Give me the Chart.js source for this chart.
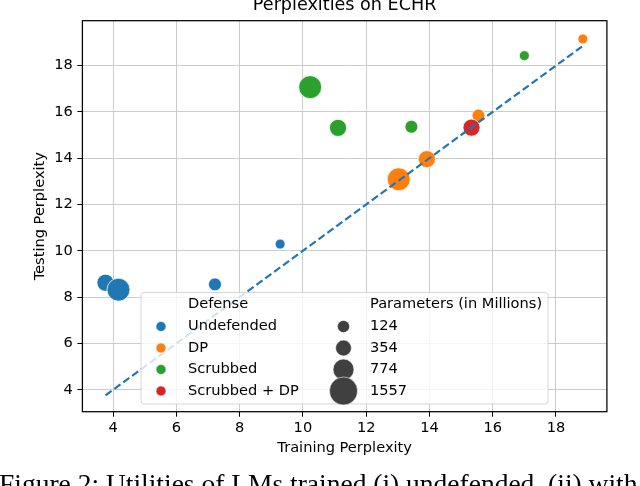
<!DOCTYPE html>
<html>
<head>
<meta charset="utf-8">
<script src="https://cdn.jsdelivr.net/npm/chart.js@4.4.0/dist/chart.umd.min.js"></script>
<style>
    body { margin: 0; background: #fff; }
    #wrap { position: relative; width: 640px; height: 486px; overflow: hidden; }
    #caption {
        position: absolute; left: -1px; top: 470px;
        font-family: "Liberation Serif", "Times New Roman", serif;
        font-size: 27.5px; line-height: 27.5px; white-space: nowrap; color: #000;
    }
</style>
</head>
<body>
<div id="wrap">
    <canvas id="perplexityChart" width="640" height="486"></canvas>
    <div id="caption">Figure 2: Utilities of LMs trained (i) undefended, (ii) with</div>
</div>
<script>
// model sizes (millions of parameters)
const modelParams = [124, 354, 774, 1557];

const undefendedTrain = [9.28, 7.22, 3.76, 4.17];
const undefendedTest = [10.29, 8.55, 8.62, 8.32];

const dpTrain = [18.85, 15.55, 13.92, 13.03];
const dpTest = [19.15, 15.84, 13.96, 13.09];

const scrubbedTrain = [17.0, 13.43, 11.11, 10.23];
const scrubbedTest = [18.43, 15.36, 15.31, 17.07];

const scrubbedDpParams = [774];
const scrubbedDpTrain = [15.33];
const scrubbedDpTest = [15.32];

const defenseNames = ["Undefended", "DP", "Scrubbed", "Scrubbed + DP"];
const defenseColors = ["#1f77b4", "#ff7f0e", "#2ca02c", "#d62728"];

const xTickValues = [4, 6, 8, 10, 12, 14, 16, 18];
const yTickValues = [4, 6, 8, 10, 12, 14, 16, 18];

const FONT = '"DejaVu Sans", Verdana, sans-serif';
const LABEL_SIZE = 14.6;

// seaborn-like size mapping: area grows linearly with parameter count
function sizeFor(p) {
    const pMin = 124, pMax = 1557, rMin = 5, rMax = 11.5;
    const t = (p - pMin) / (pMax - pMin);
    return Math.sqrt(rMin * rMin + t * (rMax * rMax - rMin * rMin));
}

function points(xs, ys) {
    return xs.map((x, i) => ({ x: x, y: ys[i] }));
}

function scatterSet(label, xs, ys, params, color, order) {
    return {
        type: "scatter",
        label: label,
        data: points(xs, ys),
        backgroundColor: color,
        borderColor: "#ffffff",
        borderWidth: 0.8,
        pointRadius: (ctx) => sizeFor(params[ctx.dataIndex]),
        order: order,
    };
}

const allTrain = [...undefendedTrain, ...dpTrain, ...scrubbedTrain, ...scrubbedDpTrain];
const lineMin = Math.min(...allTrain);
const lineMax = Math.max(...allTrain);

const framePlugin = {
    id: "frame",
    afterDatasetsDraw(chart) {
        const { ctx, chartArea: a } = chart;
        ctx.save();
        ctx.strokeStyle = "#000";
        ctx.lineWidth = 1.25;
        ctx.strokeRect(a.left, a.top, a.right - a.left, a.bottom - a.top);

        ctx.fillStyle = "#000";
        ctx.font = "17.6px " + FONT;
        ctx.textAlign = "center";
        ctx.textBaseline = "alphabetic";
        ctx.fillText("Perplexities on ECHR", (a.left + a.right) / 2, 9.5);
        ctx.restore();
    },
};

const legendPlugin = {
    id: "twoColLegend",
    afterDraw(chart) {
        const ctx = chart.ctx;
        const bx = 141, by = 292.5, bw = 407, bh = 111.5;
        const rowY = [326.5, 348, 369.5, 391];
        ctx.save();
        ctx.beginPath();
        ctx.roundRect(bx, by, bw, bh, 3);
        ctx.fillStyle = "rgba(255,255,255,0.8)";
        ctx.fill();
        ctx.strokeStyle = "rgba(204,204,204,0.8)";
        ctx.lineWidth = 1;
        ctx.stroke();

        ctx.font = LABEL_SIZE + "px " + FONT;
        ctx.textAlign = "left";
        ctx.textBaseline = "middle";
        ctx.fillStyle = "#000";
        ctx.fillText("Defense", 188, 304.5);
        ctx.fillText("Parameters (in Millions)", 370, 304.5);

        defenseNames.forEach((name, i) => {
            ctx.beginPath();
            ctx.arc(161, rowY[i], 5, 0, Math.PI * 2);
            ctx.fillStyle = defenseColors[i];
            ctx.fill();
            ctx.strokeStyle = "rgba(255,255,255,0.7)";
            ctx.lineWidth = 0.8;
            ctx.stroke();
            ctx.fillStyle = "#000";
            ctx.fillText(name, 188, rowY[i]);
        });

        modelParams.forEach((p, i) => {
            ctx.beginPath();
            ctx.arc(343.5, rowY[i], sizeFor(p) * 1.22, 0, Math.PI * 2);
            ctx.fillStyle = "#404040";
            ctx.fill();
            ctx.strokeStyle = "rgba(255,255,255,0.7)";
            ctx.lineWidth = 0.8;
            ctx.stroke();
            ctx.fillStyle = "#000";
            ctx.fillText(String(p), 370, rowY[i]);
        });
        ctx.restore();
    },
};

new Chart(document.getElementById("perplexityChart").getContext("2d"), {
    data: {
        datasets: [
            {
                type: "line",
                label: "y = x",
                data: [{ x: lineMin, y: lineMin }, { x: lineMax, y: lineMax }],
                borderColor: "#1f77b4",
                borderWidth: 2.2,
                borderDash: [7.5, 3.5],
                pointRadius: 0,
                fill: false,
                order: 0,
            },
            scatterSet(defenseNames[0], undefendedTrain, undefendedTest, modelParams, defenseColors[0], 4),
            scatterSet(defenseNames[1], dpTrain, dpTest, modelParams, defenseColors[1], 3),
            scatterSet(defenseNames[2], scrubbedTrain, scrubbedTest, modelParams, defenseColors[2], 2),
            scatterSet(defenseNames[3], scrubbedDpTrain, scrubbedDpTest, scrubbedDpParams, defenseColors[3], 1),
        ],
    },
    options: {
        responsive: false,
        animation: false,
        events: [],
        layout: { padding: { left: 0, right: 33.1, top: 20.7, bottom: 28.6 } },
        plugins: {
            legend: { display: false },
            tooltip: { enabled: false },
        },
        scales: {
            x: {
                type: "linear",
                min: 3.03,
                max: 19.61,
                afterBuildTicks: (s) => { s.ticks = xTickValues.map((v) => ({ value: v })); },
                afterFit: (s) => { s.height = 45.7; },
                border: { display: false },
                grid: { color: "#cccccc", lineWidth: 1, tickColor: "#000", tickLength: 5, tickWidth: 1 },
                ticks: { font: { family: FONT, size: LABEL_SIZE }, color: "#000", padding: 3, maxRotation: 0 },
                title: {
                    display: true,
                    text: "Training Perplexity",
                    font: { family: FONT, size: LABEL_SIZE },
                    color: "#000",
                    padding: { top: 0, bottom: 0 },
                },
            },
            y: {
                type: "linear",
                min: 3.05,
                max: 19.94,
                afterBuildTicks: (s) => { s.ticks = yTickValues.map((v) => ({ value: v })); },
                afterFit: (s) => { s.width = 82.4; },
                border: { display: false },
                grid: { color: "#cccccc", lineWidth: 1, tickColor: "#000", tickLength: 5, tickWidth: 1 },
                ticks: { font: { family: FONT, size: LABEL_SIZE }, color: "#000", padding: 4.5 },
                title: {
                    display: true,
                    text: "Testing Perplexity",
                    font: { family: FONT, size: LABEL_SIZE },
                    color: "#000",
                    padding: { top: 31.2, bottom: 0 },
                },
            },
        },
    },
    plugins: [framePlugin, legendPlugin],
});
</script>
</body>
</html>
